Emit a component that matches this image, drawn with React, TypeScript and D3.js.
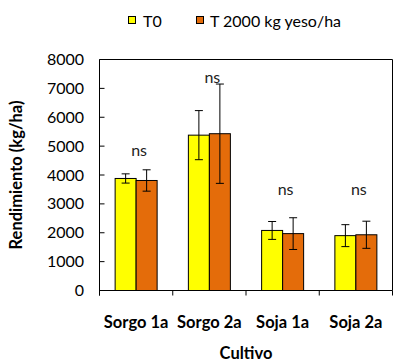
import React from "react";
import { scaleLinear, scaleBand } from "d3";

// categories and series
const cultivos = ["Sorgo 1a", "Sorgo 2a", "Soja 1a", "Soja 2a"];
const series = ["T0", "T 2000 kg yeso/ha"];
const colores = ["#FFFF00", "#E46C0A"];
const t0Vals = [3880, 5380, 2080, 1900];
const t0Err = [160, 850, 310, 380];
const t2000Vals = [3810, 5430, 1970, 1930];
const t2000Err = [370, 1720, 550, 470];
const nsPos = [4850, 7380, 3500, 3500];
const yTicks = [0, 1000, 2000, 3000, 4000, 5000, 6000, 7000, 8000];

const font = "Lato, 'Open Sans', sans-serif";
const fs = 16;
const fsBold = 16.5;

export default function App() {
  const left = 99.5;
  const right = 392.5;
  const top = 59.5;
  const bottom = 290.5;

  const x = scaleBand().domain(cultivos).range([left, right]).paddingInner(0).paddingOuter(0);
  const y = scaleLinear().domain([0, 8000]).range([bottom, top]);
  const barW = 21;

  const rows = [
    { vals: t0Vals, err: t0Err, color: colores[0], off: -barW },
    { vals: t2000Vals, err: t2000Err, color: colores[1], off: 0 },
  ];

  return (
    <svg width={410} height={363} style={{ position: "absolute", left: 0, top: 0 }}>
      <rect width={410} height={363} fill="white" />
      {/* legend */}
      <g fontFamily={font} fontSize={fs}>
        <rect x={128.5} y={16.5} width={7} height={7} fill={colores[0]} stroke="black" />
        <text x={143} y={26.5}>{series[0]}</text>
        <rect x={196.5} y={16.5} width={7} height={7} fill={colores[1]} stroke="black" />
        <text x={210} y={26.5}>{series[1]}</text>
      </g>

      {/* bars */}
      {rows.map((r, si) =>
        cultivos.map((c, i) => {
          const cx = x(c)! + x.bandwidth() / 2 + r.off;
          return (
            <g key={si + c}>
              <rect
                x={cx}
                y={y(r.vals[i])}
                width={barW}
                height={y(0) - y(r.vals[i])}
                fill={r.color}
                stroke="black"
                strokeWidth={1}
              />
              <line x1={cx + barW / 2} x2={cx + barW / 2} y1={y(r.vals[i] + r.err[i])} y2={y(r.vals[i] - r.err[i])} stroke="black" />
              <line x1={cx + barW / 2 - 4} x2={cx + barW / 2 + 4} y1={y(r.vals[i] + r.err[i])} y2={y(r.vals[i] + r.err[i])} stroke="black" />
              <line x1={cx + barW / 2 - 4} x2={cx + barW / 2 + 4} y1={y(r.vals[i] - r.err[i])} y2={y(r.vals[i] - r.err[i])} stroke="black" />
            </g>
          );
        })
      )}

      {/* ns labels */}
      {cultivos.map((c, i) => (
        <text
          key={"ns" + c}
          x={x(c)! + x.bandwidth() / 2 + 3}
          y={y(nsPos[i])}
          dy="0.35em"
          textAnchor="middle"
          fontFamily={font}
          fontSize={fs}
          fill="#222"
        >
          ns
        </text>
      ))}

      {/* frame */}
      <line x1={left} x2={right} y1={top} y2={top} stroke="black" />
      <line x1={right} x2={right} y1={top} y2={bottom} stroke="black" />
      <line x1={left} x2={left} y1={top} y2={bottom + 5} stroke="black" />
      <line x1={left} x2={right} y1={bottom} y2={bottom} stroke="black" />

      {/* y axis */}
      {yTicks.map((t) => (
        <g key={t}>
          <line x1={left} x2={left + 5} y1={y(t)} y2={y(t)} stroke="black" />
          <text x={84} y={y(t)} dy="0.35em" textAnchor="end" fontFamily={font} fontSize={fs}>
            {t}
          </text>
        </g>
      ))}

      {/* x axis */}
      {[...cultivos.map((c) => x(c)!), right].map((v, i) => (
        <line key={"xt" + i} x1={v} x2={v} y1={bottom} y2={bottom + 5} stroke="black" />
      ))}
      {cultivos.map((c) => (
        <text
          key={"xl" + c}
          x={x(c)! + x.bandwidth() / 2}
          y={322}
          dy="0.35em"
          textAnchor="middle"
          fontFamily={font}
          fontSize={fsBold}
          fontWeight="bold"
        >
          {c}
        </text>
      ))}

      <text x={(left + right) / 2} y={353} dy="0.35em" textAnchor="middle" fontFamily={font} fontSize={fsBold} fontWeight="bold">
        Cultivo
      </text>
      <text
        transform={`translate(16, ${(top + bottom) / 2}) rotate(-90)`}
        dy="0.35em"
        textAnchor="middle"
        fontFamily={font}
        fontSize={fsBold}
        fontWeight="bold"
      >
        Rendimiento (kg/ha)
      </text>
    </svg>
  );
}
